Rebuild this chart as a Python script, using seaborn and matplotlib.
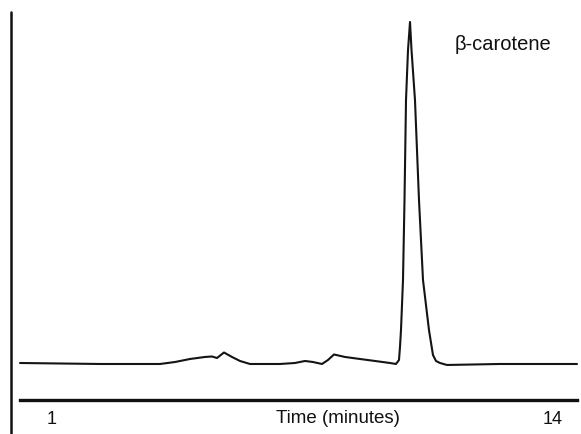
import matplotlib
matplotlib.use("Agg")
import matplotlib.pyplot as plt
import seaborn as sns
import pandas as pd
from matplotlib.lines import Line2D

# ── Chromatogram trace (time in min, relative absorbance) ──
time_min = [0.170, 2.245, 3.802, 4.192, 4.581, 4.970, 5.152, 5.281, 5.463,
            5.671, 5.878, 6.138, 6.916, 7.305, 7.565, 7.772, 8.006, 8.162,
            8.317, 8.603, 8.992, 9.381, 9.770, 9.926, 10.004, 10.030, 10.056,
            10.108, 10.147, 10.186, 10.238, 10.290, 10.329, 10.419, 10.523,
            10.627, 10.782, 10.886, 10.964, 11.068, 11.250, 12.625, 14.623]
signal = [0.29, 0.00, 0.00, 0.58, 1.46, 2.05, 2.19, 1.75, 3.36,
          2.05, 0.88, 0.00, 0.00, 0.29, 0.88, 0.58, 0.00, 1.17,
          2.78, 2.05, 1.46, 0.88, 0.29, 0.00, 1.17, 4.97, 9.94,
          24.56, 47.95, 77.19, 91.81, 100.0, 91.81, 77.19, 47.95,
          24.56, 9.94, 2.63, 0.88, 0.29, -0.29, 0.00, 0.00]

tick_pos = [1, 14]
tick_labels = ["1", "14"]
peak_label = "β-carotene"

df = pd.DataFrame({"time": time_min, "signal": signal})

sns.set_theme(style="white")
plt.rcParams["font.family"] = ["Liberation Sans", "DejaVu Sans"]

fig = plt.figure(figsize=(5.81, 4.34), dpi=100)
ax = fig.add_axes([11 / 581, 34 / 434, 570 / 581, 388 / 434])

sns.lineplot(data=df, x="time", y="signal", ax=ax, color="#141414",
             linewidth=1.5, estimator=None, sort=False)

ax.set_xlim(-0.064, 14.727)
ax.set_ylim(-10.53, 102.92)

for s in ["top", "right", "left"]:
    ax.spines[s].set_visible(False)
ax.spines["bottom"].set_color("#111111")
ax.spines["bottom"].set_linewidth(2.4)
ax.spines["bottom"].set_bounds(0.17, 14.62)

# left border of the scan runs down past the time axis
fig.add_artist(Line2D([11 / 581, 11 / 581], [0, 422 / 434],
                      color="#111111", linewidth=1.8))

ax.set_yticks([])
ax.set_xticks(tick_pos)
ax.set_xticklabels(tick_labels, fontsize=13, color="#111111")
ax.tick_params(axis="x", length=0, pad=8)

ax.set_xlabel("Time (minutes)", fontsize=13.5, color="#111111")
ax.xaxis.set_label_coords((338 - 11) / 570, -0.026)
ax.set_ylabel("")

ax.text(12.70, 93.3, peak_label, fontsize=14.5, ha="center", va="center",
        color="#111111")

fig.savefig("out.png", dpi=100, facecolor="white")
